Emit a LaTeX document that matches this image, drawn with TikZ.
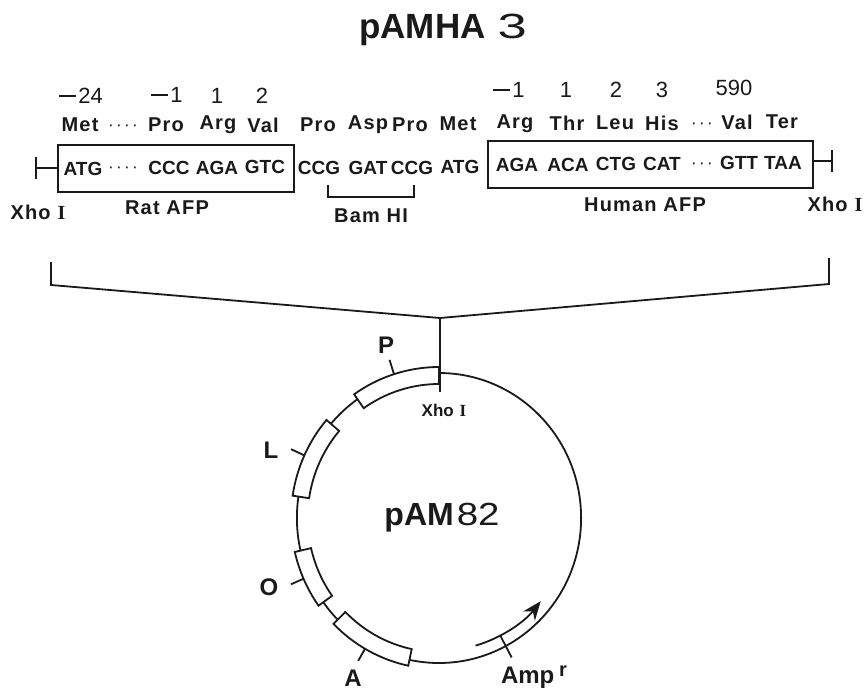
\documentclass[tikz,border=0pt]{standalone}
\usepackage{fontspec}
\usetikzlibrary{arrows.meta}
\setmainfont{Liberation Sans}
\newfontfamily\spaced[LetterSpace=6]{Liberation Sans}
\newfontfamily\wide[LetterSpace=14]{Liberation Sans}
\newfontfamily\serifI{Liberation Serif}
\definecolor{ink}{HTML}{1A1A1A}
\tikzset{
  lab/.style={text=ink,inner sep=0pt,font=\fontsize{20}{20}\selectfont\bfseries\spaced},
  seq/.style={text=ink,inner sep=0pt,font=\fontsize{19}{19}\selectfont\bfseries},
  dots/.style={text=ink,inner sep=0pt,font=\fontsize{17}{17}\selectfont\wide},
  num/.style={text=ink,inner sep=0pt,font=\fontsize{22}{22}\selectfont},
  line/.style={draw=ink,line width=1.8pt},
  seqbox/.style={draw=ink,line width=2pt,inner sep=0pt,anchor=north west},
  feat/.style={text=ink,inner sep=0pt,font=\fontsize{24}{24}\selectfont\bfseries}
}
\newcommand{\xhoI}{Xho\hspace{0.35em}{\serifI\bfseries I}}
\newcommand{\minusn}{\rule[0.3em]{0.75em}{0.08em}\hspace{0.12em}}
\newcommand{\genebox}[2]{\draw[line,fill=white] (#1:151) arc[start angle=#1,end angle=#2,radius=151pt] -- (#2:134) arc[start angle=#2,end angle=#1,radius=134pt] -- cycle;}
\begin{document}
\begin{tikzpicture}[x=1pt,y=-1pt]
\useasboundingbox[fill=white] (0,0) rectangle (864,690);
% title
\node[text=ink,inner sep=0pt,font=\fontsize{35}{35}\selectfont] (title) at (443,30) {\textbf{pAMHA}\hspace{12pt}\scalebox{1.5}[1]{3}};
% numbers
\foreach \t/\x/\y/\n in {{\minusn 24}/81/96/n1,{\minusn 1}/167/95/n2,1/217/96/n3,2/262/96/n4,{\minusn 1}/509/90/n5,1/566/90/n6,2/616/90/n7,3/662/90/n8,590/734/88/n9}
  \node[num] (\n) at (\x,\y) {\t};
% amino acids
\foreach \t/\x/\y/\n in {Met/80/125/a1,Pro/166/125/a2,Arg/218/125/a3,Val/263/125/a4,Pro/318/125/a5,Asp/368/125/a6,Pro/410/125/a7,Met/458/124/a8,Arg/515/124/a9,Thr/567/123/a10,Leu/615/123/a11,His/662/123/a12,Val/737/122/a13,Ter/782/122/a14}
  \node[lab] (\n) at (\x,\y) {\t};
\node[dots] (d1) at (123,128) {····};
\node[dots] (d2) at (702,126) {···};
% boxes
\node[seqbox,minimum width=236pt,minimum height=47pt] (ratbox) at (57,144) {};
\node[seqbox,minimum width=325pt,minimum height=47pt] (humbox) at (487,140) {};
% sequence
\foreach \t/\x/\y/\n in {ATG/83/169/s1,CCC/169/168/s2,AGA/217/168/s3,GTC/265/167/s4,CCG/319/168/s5,GAT/368/168/s6,CCG/412/168/s7,ATG/460/167/s8,AGA/517/165/s9,ACA/568/165/s10,CTG/616/164/s11,CAT/662/164/s12,GTT/739/163/s13,TAA/783/163/s14}
  \node[seq] (\n) at (\x,\y) {\t};
\node[dots] (d3) at (123,170) {····};
\node[dots] (d4) at (702,166) {···};
% Xho ends
\coordinate (xl) at (36,168);
\coordinate (xr) at (832,161);
\draw[line] (xl) -- (ratbox.west |- xl);
\draw[line] (36,157) -- (36,179);
\draw[line] (humbox.east |- xr) -- (xr);
\draw[line] (832,150) -- (832,172);
% Bam bracket
\coordinate (b1) at (328,185); \coordinate (b2) at (414,185);
\draw[line] (b1) -- ++(0,12) -- ++(86,0) -- (b2);
% labels
\node[lab] (xho1) at (38,212) {\xhoI};
\node[lab] (rat) at (167,208) {Rat AFP};
\node[lab] (bam) at (371,216) {Bam HI};
\node[lab] (hum) at (645,205) {Human AFP};
\node[lab] (xho2) at (835,204) {\xhoI};
% insert bracket
\coordinate (tip) at (440,318);
\coordinate (bl) at (51,262); \coordinate (br) at (829,258);
\draw[line,line join=miter] (bl) -- (51,285) -- (tip) -- (829,284) -- (br);
% plasmid
\begin{scope}[shift={(439,518)},x=1pt,y=1pt,xscale=0.98]
  \draw[line] (0,0) circle[radius=145pt];
  \genebox{90}{125}
  \genebox{139.5}{171.5}
  \genebox{193}{215.5}
  \genebox{224.5}{258}
  \draw[line] (107.7:151) -- (107.7:166);
  \draw[line] (155.5:151) -- (155.5:166);
  \draw[line] (203.7:151) -- (203.7:165);
  \draw[line] (240:151) -- (240:165);
  \draw[line] (-62:133) -- (-62:158);
  \draw[draw=ink,line width=1.8pt,-{Stealth[length=19pt,width=15pt]}] (-73.7:133) arc[start angle=-73.7,end angle=-38.7,radius=133pt];
\end{scope}
\draw[line] (tip) -- (440,392);
\node[text=ink,inner sep=0pt,font=\fontsize{17}{17}\selectfont\bfseries] (xho3) at (444,410) {\xhoI};
\node[feat] (P) at (386,345) {P};
\node[feat] (L) at (271,450) {L};
\node[feat] (O) at (269,587) {O};
\node[feat] (A) at (353,678) {A};
\node[feat] (Amp) at (534,677) {Amp\hspace{0.2em}\raisebox{7pt}{\fontsize{20}{20}\selectfont r}};
\node[text=ink,inner sep=0pt,font=\fontsize{32}{32}\selectfont] (pam) at (442,518) {\textbf{pAM}\hspace{3pt}\scalebox{1.2}[1]{82}};
\end{tikzpicture}
\end{document}
